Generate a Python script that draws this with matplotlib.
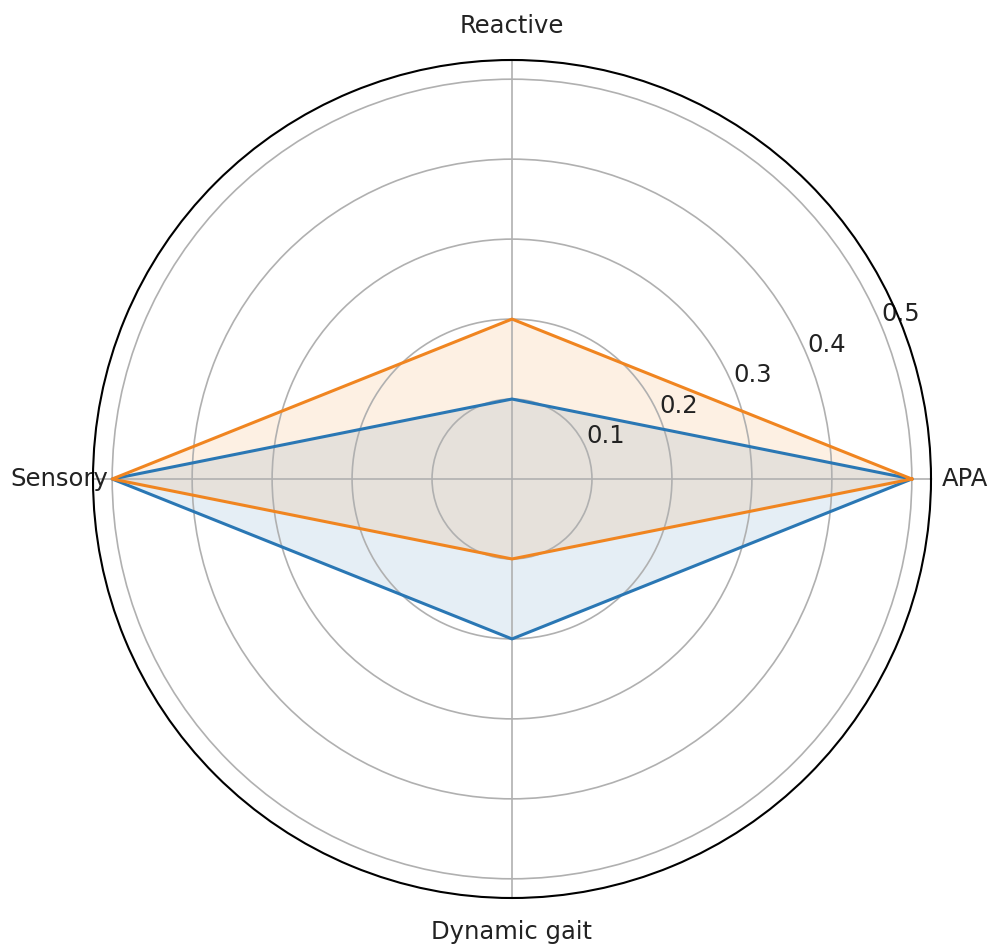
import matplotlib
matplotlib.use("Agg")
import matplotlib.pyplot as plt
import numpy as np

# radar chart categories, counter-clockwise from east
categories = ["APA", "Reactive", "Sensory", "Dynamic gait"]
series_blue = [0.5, 0.1, 0.5, 0.2]
series_orange = [0.5, 0.2, 0.5, 0.1]
r_ticks = [0.1, 0.2, 0.3, 0.4, 0.5]
r_tick_labels = ["0.1", "0.2", "0.3", "0.4", "0.5"]

angles = np.linspace(0, 2 * np.pi, len(categories), endpoint=False)
closed_angles = np.concatenate([angles, angles[:1]])

fig = plt.figure(figsize=(9.94, 9.49), dpi=100)
ax = fig.add_axes([93 / 994, 51 / 949, 838 / 994, 838 / 949], projection="polar")

for values, color in [(series_blue, "#2a77b4"), (series_orange, "#f08520")]:
    closed = np.concatenate([values, values[:1]])
    ax.plot(closed_angles, closed, color=color, linewidth=2.2)
    ax.fill(closed_angles, closed, color=color, alpha=0.12)

ax.set_ylim(0, 0.524)
ax.set_xticks(angles)
ax.set_xticklabels(categories, fontsize=17.5, color="#222222")
ax.set_yticks(r_ticks)
ax.set_yticklabels(r_tick_labels, fontsize=17.5, color="#222222")
ax.set_rlabel_position(22.5)
ax.tick_params(axis="x", pad=14)
ax.grid(color="#b0b0b0", linewidth=1.2)
ax.spines["polar"].set_linewidth(1.5)

fig.savefig("out.png", dpi=100)
